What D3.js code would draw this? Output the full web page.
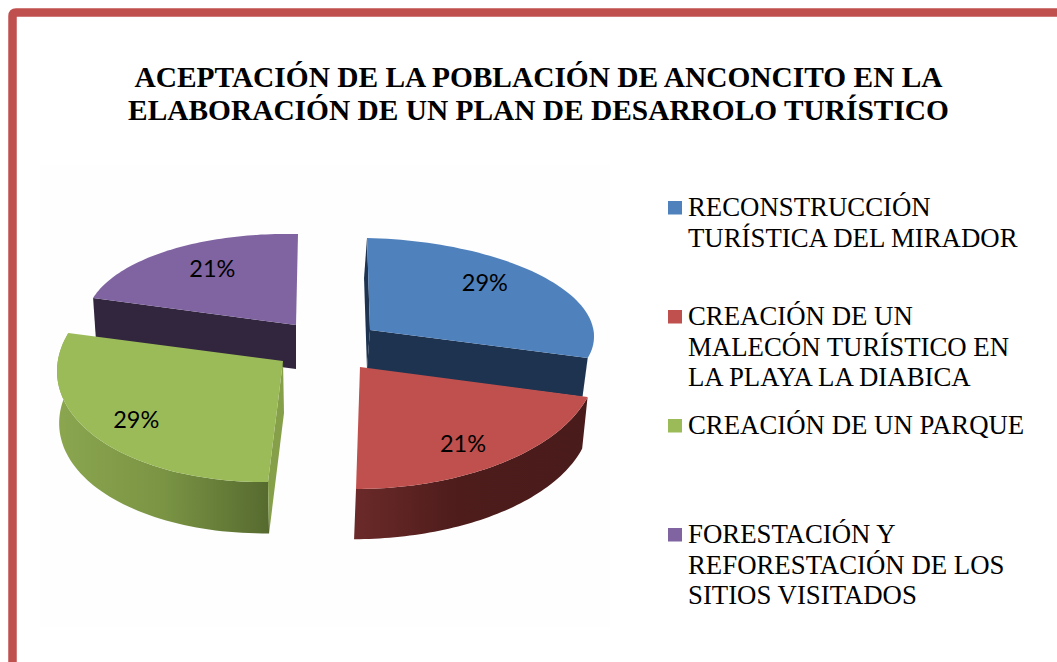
<!DOCTYPE html>
<html><head><meta charset="utf-8">
<script src="https://cdn.jsdelivr.net/npm/d3@7"></script>
<style>html,body{margin:0;padding:0;background:#fff}svg{display:block}</style>
</head><body><div id="c"></div>
<script>
const titleLines = ["ACEPTACIÓN DE LA POBLACIÓN DE ANCONCITO EN LA","ELABORACIÓN DE UN PLAN DE DESARROLO TURÍSTICO"];
const categories = ["RECONSTRUCCIÓN TURÍSTICA DEL MIRADOR","CREACIÓN DE UN MALECÓN TURÍSTICO EN LA PLAYA LA DIABICA","CREACIÓN DE UN PARQUE","FORESTACIÓN Y REFORESTACIÓN DE LOS SITIOS VISITADOS"];
const legendLines = [["RECONSTRUCCIÓN","TURÍSTICA DEL MIRADOR"],["CREACIÓN DE UN","MALECÓN TURÍSTICO EN","LA PLAYA LA DIABICA"],["CREACIÓN DE UN PARQUE"],["FORESTACIÓN Y","REFORESTACIÓN DE LOS","SITIOS VISITADOS"]];
const values = [29,21,29,21];
const colors = ["#4f81bd","#c0504d","#9bbb59","#8064a2"];

// layout of the exploded, tilted slices: apex A, unit vectors U/V in screen px, extrusion D, bottom scale s
const geometry = [
  {A:[370,330],U:[224,5.3],V:[-3,-92],D:[-3,39],s:.99,wall:"#1e3350",side:null,walls:["start","end"],nudge:[1,-13]},
  {A:[360,367],U:[236,-.3],V:[4,-122],D:[-2,52],s:.985,wall:"#4a1b1b",side:"url(#gRed)",walls:[],nudge:[11,14]},
  {A:[283,361],U:[225.5,-2.2],V:[15,-121],D:[1,52],s:.995,wall:"#86a04a",side:"url(#gGreen)",walls:["start"],nudge:[-25,9]},
  {A:[296,325],U:[210,4.5],V:[2,-91],D:[0,44],s:.985,wall:"#32263f",side:null,walls:["start"],nudge:[-1,-8]}
];
const drawOrder = [3,0,2,1];

const W=1057,H=662;
const svg=d3.select("#c").append("svg").attr("width",W).attr("height",H);
const defs=svg.append("defs");
function grad(id,stops){
  const g=defs.append("linearGradient").attr("id",id).attr("x1",0).attr("x2",1).attr("y1",0).attr("y2",0);
  stops.forEach(s=>g.append("stop").attr("offset",s[0]).attr("stop-color",s[1]));
}
grad("gRed",[[0,"#6b2a29"],[.45,"#4d1c1b"],[1,"#4a1b1b"]]);
grad("gGreen",[[0,"#8ba64f"],[.5,"#7a9444"],[1,"#566a2f"]]);

svg.append("rect").attr("x",40).attr("y",165).attr("width",570).attr("height",462).attr("fill","#fefefe");
svg.append("path").attr("d",`M1057,12.5 H16 Q12.5,12.5 12.5,16 V662`).attr("fill","none").attr("stroke","#c0504d").attr("stroke-width",8.5);

svg.append("g").selectAll("text").data(titleLines).join("text")
  .attr("x",538.5).attr("y",(d,i)=>87+i*33).attr("text-anchor","middle")
  .attr("font-family","'Liberation Serif'").attr("font-weight","bold").attr("font-size",29.4).attr("fill","#000").text(d=>d);

const pie=d3.pie().sort(null).startAngle(0).endAngle(2*Math.PI);
const arcs=pie(values);
const line=d3.line();
const proj=(g,t,bottom)=>{
  const k=bottom?g.s:1, ox=bottom?g.D[0]:0, oy=bottom?g.D[1]:0;
  return [g.A[0]+ox+k*(Math.sin(t)*g.U[0]+Math.cos(t)*g.V[0]), g.A[1]+oy+k*(Math.sin(t)*g.U[1]+Math.cos(t)*g.V[1])];
};
const samples=(a)=>d3.range(0,61).map(i=>a.startAngle+(a.endAngle-a.startAngle)*i/60);

const chart=svg.append("g");
drawOrder.forEach(i=>{
  const a=arcs[i],g=geometry[i],ts=samples(a),apex=g.A,apexB=[g.A[0]+g.D[0],g.A[1]+g.D[1]];
  const s=chart.append("g");
  if(g.side) s.append("path").attr("d",line(ts.map(t=>proj(g,t,false)).concat(ts.slice().reverse().map(t=>proj(g,t,true))))+"Z").attr("fill",g.side);
  g.walls.forEach(w=>{
    const t=w==="start"?a.startAngle:a.endAngle;
    s.append("path").attr("d",line([apex,proj(g,t,false),proj(g,t,true),apexB])+"Z").attr("fill",g.wall);
  });
  s.append("path").attr("d",line([apex].concat(ts.map(t=>proj(g,t,false))))+"Z").attr("fill",colors[i]);
});
arcs.forEach((a,i)=>{
  const g=geometry[i],m=(a.startAngle+a.endAngle)/2,
    x=g.A[0]+.65*(Math.sin(m)*g.U[0]+Math.cos(m)*g.V[0])+g.nudge[0],
    y=g.A[1]+.65*(Math.sin(m)*g.U[1]+Math.cos(m)*g.V[1])+g.nudge[1];
  chart.append("text").attr("x",x).attr("y",y).attr("dy","0.35em").attr("text-anchor","middle")
    .attr("font-family","Lato").attr("font-size",23.5).attr("fill","#000").text(values[i]+"%");
});

const legendBase=[216,325,434,543];
const leg=svg.append("g");
categories.forEach((c,i)=>{
  leg.append("rect").attr("x",668).attr("y",legendBase[i]-15).attr("width",14).attr("height",13.5).attr("fill",colors[i]);
  leg.append("text").attr("x",688).attr("y",legendBase[i]).attr("font-family","'Liberation Serif'").attr("font-size",26.8).attr("fill","#000")
    .selectAll("tspan").data(legendLines[i]).join("tspan").attr("x",688).attr("dy",(d,j)=>j?30.5:0).text(d=>d);
});
</script></body></html>
